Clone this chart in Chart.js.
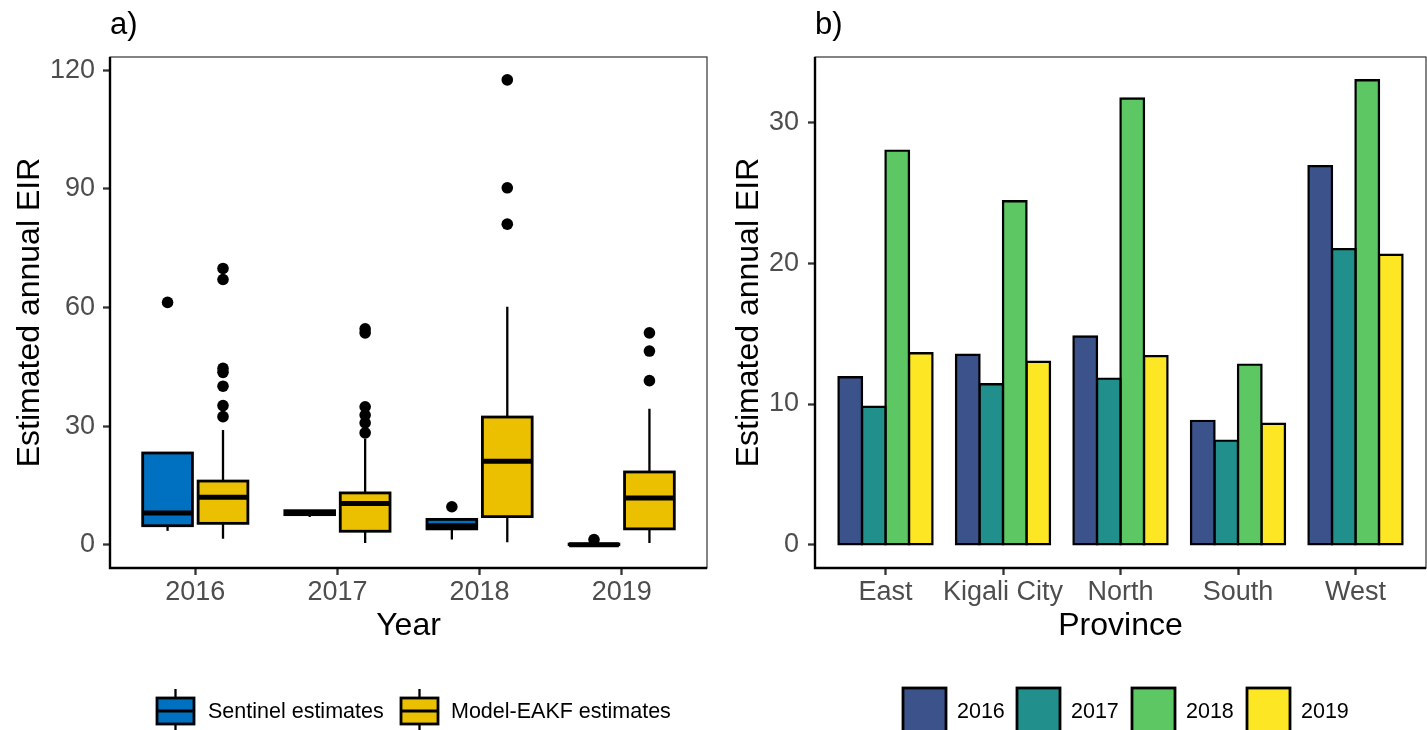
<!DOCTYPE html>
<html>
<head>
<meta charset="utf-8">
<script src="https://cdn.jsdelivr.net/npm/chart.js@4/dist/chart.umd.min.js"></script>
<style>
  html, body { margin: 0; padding: 0; background: #ffffff; }
  #wrap { position: relative; width: 1427px; height: 730px; overflow: hidden; }
  canvas { position: absolute; top: 0; }
</style>
</head>
<body>
<div id="wrap">
  <canvas id="panelA" width="713" height="730" style="left:0px"></canvas>
  <canvas id="panelB" width="714" height="730" style="left:713px"></canvas>
</div>
<script>
// ---------- Panel a: distribution of estimated annual EIR by year ----------
const years = ['2016', '2017', '2018', '2019'];

// Sentinel-site estimates (box summary per year)
const sentinelLow  = [3.5, 7.0, 1.3, 0.0];
const sentinelQ1   = [4.8, 7.6, 4.0, 0.0];
const sentinelMed  = [8.0, 8.1, 4.8, 0.0];
const sentinelQ3   = [23.2, 8.6, 6.4, 0.15];
const sentinelHigh = [23.2, 8.7, 6.4, 0.15];
const sentinelOut  = [[61.3], [], [9.6], [1.3]];

// Model-EAKF estimates (box summary per year)
const modelLow  = [1.5, 0.4, 0.6, 0.4];
const modelQ1   = [5.4, 3.4, 7.1, 4.0];
const modelMed  = [12.0, 10.4, 21.1, 11.8];
const modelQ3   = [16.1, 13.1, 32.3, 18.4];
const modelHigh = [29.0, 26.8, 60.2, 34.4];
const modelOut  = [
  [32.4, 35.2, 40.1, 43.6, 44.6, 67.1, 69.9],
  [28.3, 30.8, 32.8, 34.9, 53.6, 54.6],
  [81.1, 90.3, 117.6],
  [41.5, 49.0, 53.6]
];

const yTicksA = [0, 30, 60, 90, 120];

// ---------- Panel b: mean annual EIR by province and year ----------
const provinces = ['East', 'Kigali City', 'North', 'South', 'West'];
const eir2016 = [11.9, 13.5, 14.8, 8.8, 26.9];
const eir2017 = [9.8, 11.4, 11.8, 7.4, 21.0];
const eir2018 = [28.0, 24.4, 31.7, 12.8, 33.0];
const eir2019 = [13.6, 13.0, 13.4, 8.6, 20.6];
const barYears = ['2016', '2017', '2018', '2019'];
const yTicksB = [0, 10, 20, 30];

// ---------- shared styling ----------
const FONT = "'Liberation Sans', Arial, Helvetica, sans-serif";
Chart.defaults.font.family = FONT;
const TICK_GREY = '#4D4D4D';
const TICK_SIZE = 27;
const BOX_OFFSET = 0.195;
const BOX_HALF = 0.175;

const boxGroups = [
  { name: 'Sentinel estimates', fill: '#0070C0', offset: -BOX_OFFSET,
    low: sentinelLow, q1: sentinelQ1, med: sentinelMed, q3: sentinelQ3, high: sentinelHigh },
  { name: 'Model-EAKF estimates', fill: '#EBC000', offset: BOX_OFFSET,
    low: modelLow, q1: modelQ1, med: modelMed, q3: modelQ3, high: modelHigh }
];

function outlierPoints(groups, offset) {
  const pts = [];
  groups.forEach((vals, i) => vals.forEach(v => pts.push({ x: i + 1 + offset, y: v })));
  return pts;
}

// Draws box, whiskers and median for each year and source
const boxPlugin = {
  id: 'boxes',
  beforeDatasetsDraw(chart) {
    const { ctx } = chart;
    const x = chart.scales.x, y = chart.scales.y;
    const unit = x.getPixelForValue(1) - x.getPixelForValue(0);
    const half = BOX_HALF * unit;
    ctx.save();
    boxGroups.forEach(g => {
      years.forEach((yr, i) => {
        const cx = x.getPixelForValue(i + 1 + g.offset);
        const pLow = y.getPixelForValue(g.low[i]);
        const pQ1 = y.getPixelForValue(g.q1[i]);
        const pMed = y.getPixelForValue(g.med[i]);
        const pQ3 = y.getPixelForValue(g.q3[i]);
        const pHigh = y.getPixelForValue(g.high[i]);
        ctx.strokeStyle = '#000';
        ctx.lineWidth = 2.3;
        ctx.beginPath();
        ctx.moveTo(cx, pQ3); ctx.lineTo(cx, pHigh);
        ctx.moveTo(cx, pQ1); ctx.lineTo(cx, pLow);
        ctx.stroke();
        ctx.fillStyle = g.fill;
        ctx.fillRect(cx - half, pQ3, 2 * half, pQ1 - pQ3);
        ctx.lineWidth = 2.8;
        ctx.strokeRect(cx - half, pQ3, 2 * half, pQ1 - pQ3);
        ctx.lineWidth = 5;
        ctx.beginPath();
        ctx.moveTo(cx - half, pMed); ctx.lineTo(cx + half, pMed);
        ctx.stroke();
      });
    });
    ctx.restore();
  }
};

// Panel frame, axis lines, titles and legend
function framePlugin(cfg) {
  return {
    id: 'frame',
    afterDatasetsDraw(chart) {
      const { ctx, chartArea: a } = chart;
      ctx.save();
      ctx.strokeStyle = '#333333';
      ctx.lineWidth = 1.2;
      ctx.strokeRect(a.left, a.top, a.right - a.left, a.bottom - a.top);
      ctx.strokeStyle = '#000';
      ctx.lineWidth = 2.4;
      ctx.beginPath();
      ctx.moveTo(a.left, a.top);
      ctx.lineTo(a.left, a.bottom);
      ctx.lineTo(a.right, a.bottom);
      ctx.stroke();
      ctx.restore();
    },
    afterDraw(chart) {
      const { ctx, chartArea: a } = chart;
      ctx.save();
      ctx.fillStyle = '#000';
      ctx.textBaseline = 'alphabetic';
      ctx.font = '31px ' + FONT;
      ctx.textAlign = 'left';
      ctx.fillText(cfg.tag, cfg.tagX, 34);
      ctx.font = '32px ' + FONT;
      ctx.textAlign = 'center';
      ctx.fillText(cfg.xTitle, (a.left + a.right) / 2, 635);
      ctx.save();
      ctx.translate(cfg.yTitleX, (a.top + a.bottom) / 2);
      ctx.rotate(-Math.PI / 2);
      ctx.fillText(cfg.yTitle, 0, 0);
      ctx.restore();
      cfg.legend(ctx);
      ctx.restore();
    }
  };
}

function legendA(ctx) {
  const keys = [
    { x: 157, label: boxGroups[0].name, fill: boxGroups[0].fill, tx: 208 },
    { x: 401, label: boxGroups[1].name, fill: boxGroups[1].fill, tx: 451 }
  ];
  keys.forEach(k => {
    const w = 37, top = 698, h = 26, cx = k.x + w / 2;
    ctx.strokeStyle = '#000';
    ctx.lineWidth = 2.3;
    ctx.beginPath();
    ctx.moveTo(cx, 689); ctx.lineTo(cx, top);
    ctx.moveTo(cx, top + h); ctx.lineTo(cx, 732);
    ctx.stroke();
    ctx.fillStyle = k.fill;
    ctx.fillRect(k.x, top, w, h);
    ctx.lineWidth = 2.8;
    ctx.strokeRect(k.x, top, w, h);
    ctx.lineWidth = 2.8;
    ctx.beginPath();
    ctx.moveTo(k.x, top + h / 2); ctx.lineTo(k.x + w, top + h / 2);
    ctx.stroke();
    ctx.fillStyle = '#000';
    ctx.font = '21.5px ' + FONT;
    ctx.textAlign = 'left';
    ctx.textBaseline = 'middle';
    ctx.fillText(k.label, k.tx, 712);
  });
}

const barColors = ['#3B528B', '#21908C', '#5DC863', '#FDE725'];

function legendB(ctx) {
  const keyX = [190, 304, 419, 534];
  barYears.forEach((yr, i) => {
    ctx.fillStyle = barColors[i];
    ctx.fillRect(keyX[i], 688, 43, 46);
    ctx.strokeStyle = '#000';
    ctx.lineWidth = 2.8;
    ctx.strokeRect(keyX[i], 688, 43, 46);
    ctx.fillStyle = '#000';
    ctx.font = '21.5px ' + FONT;
    ctx.textAlign = 'left';
    ctx.textBaseline = 'middle';
    ctx.fillText(yr, keyX[i] + 54, 712);
  });
}

function axisTicks(size) {
  return { color: TICK_GREY, font: { size: size }, autoSkip: false, maxRotation: 0, minRotation: 0 };
}
const tickGrid = { offset: false, drawOnChartArea: false, drawTicks: true, tickLength: 7, tickWidth: 2.3, tickColor: '#333333' };

// ---------- Panel a chart ----------
new Chart(document.getElementById('panelA'), {
  type: 'scatter',
  data: {
    datasets: [
      { label: boxGroups[0].name, data: outlierPoints(sentinelOut, -BOX_OFFSET),
        pointRadius: 5.8, pointHoverRadius: 5.8, backgroundColor: '#000', borderWidth: 0 },
      { label: boxGroups[1].name, data: outlierPoints(modelOut, BOX_OFFSET),
        pointRadius: 5.8, pointHoverRadius: 5.8, backgroundColor: '#000', borderWidth: 0 }
    ]
  },
  options: {
    responsive: false, animation: false, devicePixelRatio: 1,
    events: [],
    layout: { padding: { top: 57, right: 6, left: 0, bottom: 0 } },
    plugins: { legend: { display: false }, tooltip: { enabled: false } },
    scales: {
      x: {
        type: 'linear', min: 0.4, max: 4.6, offset: false,
        afterBuildTicks: ax => { ax.ticks = years.map((yr, i) => ({ value: i + 1 })); },
        afterFit: ax => { ax.height = 162; },
        ticks: Object.assign(axisTicks(TICK_SIZE), { padding: 1, callback: v => years[v - 1] }),
        grid: tickGrid, border: { display: false }
      },
      y: {
        type: 'linear', min: -5.9, max: 123.4,
        afterBuildTicks: ax => { ax.ticks = yTicksA.map(v => ({ value: v })); },
        afterFit: ax => { ax.width = 110; },
        ticks: Object.assign(axisTicks(TICK_SIZE), { padding: 8, callback: v => String(v) }),
        grid: tickGrid, border: { display: false }
      }
    }
  },
  plugins: [boxPlugin, framePlugin({ tag: 'a)', tagX: 110, xTitle: 'Year', yTitle: 'Estimated annual EIR', yTitleX: 39, legend: legendA })]
});

// ---------- Panel b chart ----------
const barSeries = [eir2016, eir2017, eir2018, eir2019];
new Chart(document.getElementById('panelB'), {
  type: 'bar',
  data: {
    datasets: barSeries.map((vals, k) => ({
      label: barYears[k],
      data: vals.map((v, i) => ({ x: i + 1, y: v })),
      backgroundColor: barColors[k],
      borderColor: '#000',
      borderWidth: 2.4,
      borderSkipped: false,
      inflateAmount: 1.2,
      categoryPercentage: 0.8,
      barPercentage: 1.0
    }))
  },
  options: {
    responsive: false, animation: false, devicePixelRatio: 1,
    events: [],
    layout: { padding: { top: 57, right: 1, left: 0, bottom: 0 } },
    plugins: { legend: { display: false }, tooltip: { enabled: false } },
    scales: {
      x: {
        type: 'linear', min: 0.4, max: 5.6, offset: false,
        afterBuildTicks: ax => { ax.ticks = provinces.map((p, i) => ({ value: i + 1 })); },
        afterFit: ax => { ax.height = 162; },
        ticks: Object.assign(axisTicks(TICK_SIZE), { padding: 1, callback: v => provinces[v - 1] }),
        grid: tickGrid, border: { display: false }
      },
      y: {
        type: 'linear', min: -1.65, max: 34.65,
        afterBuildTicks: ax => { ax.ticks = yTicksB.map(v => ({ value: v })); },
        afterFit: ax => { ax.width = 102; },
        ticks: Object.assign(axisTicks(TICK_SIZE), { padding: 9, callback: v => String(v) }),
        grid: tickGrid, border: { display: false }
      }
    }
  },
  plugins: [framePlugin({ tag: 'b)', tagX: 102, xTitle: 'Province', yTitle: 'Estimated annual EIR', yTitleX: 45, legend: legendB })]
});
</script>
</body>
</html>
